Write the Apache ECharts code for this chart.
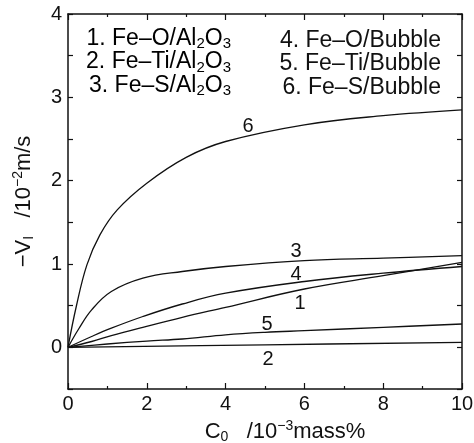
<!DOCTYPE html>
<html><head><meta charset="utf-8">
<script src="https://cdn.jsdelivr.net/npm/echarts@6/dist/echarts.min.js"></script>
<style>html,body{margin:0;padding:0;background:#fff}#c{width:474px;height:443px}</style>
</head><body><div id="c"></div>
<script>
// ---- data ----
const curve1 = [[0,0],[0.6,0.07],[1.1,0.14],[1.9,0.24],[2.9,0.36],[4,0.48],[6,0.7],[8,0.86],[10,1.02]];
const curve2 = [[0,0],[5,0.03],[10,0.06]];
const curve3 = [[0,0],[0.27,0.22],[0.6,0.45],[1.1,0.67],[1.9,0.83],[2.9,0.91],[4,0.97],[6,1.04],[8,1.07],[10,1.1]];
const curve4 = [[0,0],[0.6,0.13],[1.1,0.23],[1.9,0.37],[2.9,0.52],[4,0.65],[6,0.79],[8,0.89],[10,0.97]];
const curve5 = [[0,0],[1,0.04],[2,0.075],[2.9,0.1],[4,0.15],[5,0.18],[6,0.2],[8,0.24],[10,0.28]];
const curve6 = [[0,0],[0.21,0.49],[0.48,0.99],[0.81,1.35],[1.25,1.65],[2,1.97],[3,2.28],[4,2.47],[6,2.67],[8,2.78],[10,2.85]];
const curveLabels = ['6','3','4','1','5','2'];
const curveLabelPos = [[4.57,2.65],[5.79,1.15],[5.79,0.88],[5.89,0.53],[5.05,0.27],[5.08,-0.14]];
const legendLeft = ['{t|1. Fe–O/Al}{s|2}{t|O}{s|3}','{t|2. Fe–Ti/Al}{s|2}{t|O}{s|3}','{t|3. Fe–S/Al}{s|2}{t|O}{s|3}'];
const legendRight = ['4. Fe–O/Bubble','5. Fe–Ti/Bubble','6. Fe–S/Bubble'];
const xMin = 0, xMax = 10, yMin = -0.5, yMax = 4;

const FONT = '"Liberation Sans", Arial, sans-serif';
const INK = '#111';
const chart = echarts.init(document.getElementById('c'), null, {renderer:'canvas'});

function rich(size){
  return {
    t: {fontSize: size, fontFamily: FONT, color: INK, lineHeight: size+3},
    s: {fontSize: Math.round(size*0.65), fontFamily: FONT, color: INK, lineHeight: Math.round(size*0.65), verticalAlign: 'bottom'},
    p: {fontSize: Math.round(size*0.65), fontFamily: FONT, color: INK, lineHeight: Math.round(size*0.65), verticalAlign: 'top'}
  };
}

function lineSeries(d){
  return {type:'line', data:d, showSymbol:false, smooth:0.4,
    lineStyle:{color:INK, width:1.3}, silent:true, animation:false, xAxisIndex:0, yAxisIndex:0, z:2};
}

const graphics = [];
legendLeft.forEach((t,i)=>{
  graphics.push({type:'text', right: 474-231, top: 27 + i*23.5, style:{text:t, rich:rich(23), textAlign:'right'}});
});
legendRight.forEach((t,i)=>{
  graphics.push({type:'text', right: 474-441, top: 29 + i*23.5, style:{text:t, font:'23px '+FONT, fill:INK, textAlign:'right'}});
});

const axisCommon = {
  type:'value',
  axisLine:{onZero:false, lineStyle:{color:INK, width:1.5}},
  axisTick:{inside:true, length:6, lineStyle:{color:INK, width:1.2}},
  splitLine:{show:false}
};

chart.setOption({
  animation:false,
  backgroundColor:'#fff',
  grid:{left:68, right:12, top:14, bottom:54, containLabel:false, outerBoundsMode:'none'},
  xAxis:[Object.assign({}, axisCommon, {
    min:xMin, max:xMax, interval:2, position:'bottom',
    minorTick:{show:true, splitNumber:2, length:3, lineStyle:{color:INK, width:1.2}},
    axisLabel:{fontSize:20, fontFamily:FONT, color:INK, margin:5},
    name:'{t|C}{s|0}{t|   /10}{p|−3}{t|mass%}',
    nameLocation:'middle', nameGap:30,
    nameTextStyle:{rich:rich(22), padding:[0,0,0,40]}
  }), Object.assign({}, axisCommon, {
    min:xMin, max:xMax, interval:2, position:'top',
    minorTick:{show:true, splitNumber:2, length:3, lineStyle:{color:INK, width:1.2}},
    axisLabel:{show:false}
  })],
  yAxis:[Object.assign({}, axisCommon, {
    min:yMin, max:yMax, interval:0.5, position:'left',
    axisTick:{inside:true, length:5, lineStyle:{color:INK, width:1.2}},
    axisLabel:{fontSize:20, fontFamily:FONT, color:INK, margin:6,
      formatter:v=> (Math.abs(v-Math.round(v))<1e-9 ? String(Math.round(v)) : '')},
    name:'{t|−V}{s|I}{t|   /10}{p|−2}{t|m/s}',
    nameLocation:'middle', nameGap:32, nameRotate:90,
    nameTextStyle:{rich:rich(22)}
  }), Object.assign({}, axisCommon, {
    min:yMin, max:yMax, interval:0.5, position:'right',
    axisTick:{inside:true, length:5, lineStyle:{color:INK, width:1.2}},
    axisLabel:{show:false}
  })],
  series:[
    lineSeries(curve1), lineSeries(curve2), lineSeries(curve3),
    lineSeries(curve4), lineSeries(curve5), lineSeries(curve6),
    {type:'scatter', symbol:'circle', symbolSize:1, itemStyle:{opacity:0}, silent:true, z:5,
      data: curveLabelPos.map((p,i)=>({value:p, name:curveLabels[i]})),
      label:{show:true, position:'inside', formatter:'{b}', fontSize:20, fontFamily:FONT, color:INK, opacity:1},
      labelLayout:{hideOverlap:false}}
  ],
  graphic: graphics
});
</script></body></html>
